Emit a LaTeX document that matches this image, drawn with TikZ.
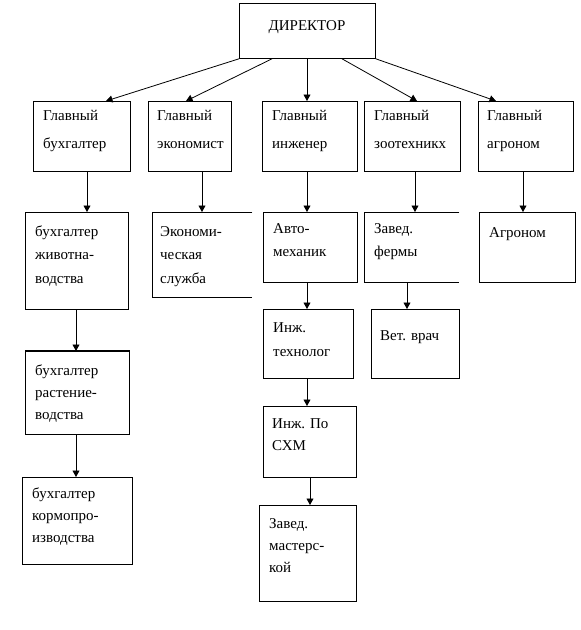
\documentclass[tikz,border=0pt]{standalone}
\usepackage{fontspec}
\setmainfont{Liberation Serif}
\usetikzlibrary{arrows.meta}
\tikzset{
  box/.style={draw, line width=0.8pt, rectangle, inner sep=0, anchor=north west},
  openbox/.style={rectangle, inner sep=0, anchor=north west},
  txt/.style={anchor=base west, inner sep=0, font=\fontsize{15}{18}\selectfont},
  arr/.style={line width=0.8pt, -{Triangle[length=6.5pt,width=7pt]}},
  edge/.style={line width=0.8pt}
}
\newcommand{\boxlines}[5]{\foreach \t [count=\i from 0] in {#5} {\node[txt] (#1-\i) at (#2,{#3+\i*#4}) {\t};}}
\begin{document}
\begin{tikzpicture}[x=1pt,y=-1pt]
\useasboundingbox (0,0) rectangle (581,630);
% boxes
\node[box, minimum width=136, minimum height=55] (dir) at (239,3) {};
\node[box, minimum width=97, minimum height=70] (gb) at (33,101) {};
\node[box, minimum width=83, minimum height=70] (ge) at (148,101) {};
\node[box, minimum width=95, minimum height=70] (gi) at (262,101) {};
\node[box, minimum width=96, minimum height=70] (gz) at (364,101) {};
\node[box, minimum width=95, minimum height=70] (ga) at (478,101) {};
\node[box, minimum width=103, minimum height=97] (bz) at (25,212) {};
\node[openbox, minimum width=100, minimum height=85] (es) at (152,212) {};
\draw[edge] (es.north east) -- (es.north west) -- (es.south west) -- (es.south east);
\node[box, minimum width=94, minimum height=70] (am) at (263,212) {};
\node[openbox, minimum width=95, minimum height=70] (zf) at (364,212) {};
\draw[edge] (zf.north east) -- (zf.north west) -- (zf.south west) -- (zf.south east);
\node[box, minimum width=96, minimum height=70] (ag) at (479,212) {};
\node[box, minimum width=90, minimum height=69] (it) at (263,309) {};
\node[box, minimum width=88, minimum height=69] (vv) at (371,309) {};
\node[box, minimum width=104, minimum height=83] (br) at (25,351) {};
\draw[line width=1.8pt] (br.north west) -- (br.north east);
\node[box, minimum width=110, minimum height=87] (bk) at (22,477) {};
\node[box, minimum width=93, minimum height=71] (is) at (263,406) {};
\node[box, minimum width=97, minimum height=96] (zm) at (259,505) {};
% texts
\node[txt, anchor=base] (dirt) at (307,30) {ДИРЕКТОР};
\boxlines{gbt}{43}{120}{28}{Главный,бухгалтер}
\boxlines{get}{157}{120}{28}{Главный,экономист}
\boxlines{git}{272}{120}{28}{Главный,инженер}
\boxlines{gzt}{374}{120}{28}{Главный,зоотехникх}
\boxlines{gat}{487}{120}{28}{Главный,агроном}
\boxlines{bzt}{35}{236}{23.5}{бухгалтер,животна-,водства}
\boxlines{est}{160}{236}{23.5}{Экономи-,ческая,служба}
\boxlines{amt}{273}{233}{23}{Авто-,механик}
\boxlines{zft}{374}{233}{23}{Завед.,фермы}
\boxlines{agt}{489}{237}{23}{Агроном}
\boxlines{itt}{273}{332}{24}{Инж.,технолог}
\boxlines{vvt}{380}{340}{23}{Вет. врач}
\boxlines{brt}{35}{375}{22}{бухгалтер,растение-,водства}
\boxlines{bkt}{32}{498}{22}{бухгалтер,кормопро-,изводства}
\boxlines{ist}{272}{428}{22}{Инж. По,СХМ}
\boxlines{zmt}{269}{528}{22}{Завед.,мастерс-,кой}
% connectors from director
\draw[arr] (dir.south west) -- ([xshift=73pt]gb.north west);
\draw[arr] ([xshift=33pt]dir.south west) -- ([xshift=38pt]ge.north west);
\draw[arr] ([xshift=68pt]dir.south west) -- ([xshift=45pt]gi.north west);
\draw[arr] ([xshift=103pt]dir.south west) -- ([xshift=53pt]gz.north west);
\draw[arr] (dir.south east) -- ([xshift=18pt]ga.north west);
% vertical connectors
\draw[arr] ([xshift=54pt]gb.south west) -- ([xshift=62pt]bz.north west);
\draw[arr] ([xshift=54pt]ge.south west) -- ([xshift=50pt]es.north west);
\draw[arr] ([xshift=45pt]gi.south west) -- ([xshift=44pt]am.north west);
\draw[arr] ([xshift=51pt]gz.south west) -- ([xshift=51pt]zf.north west);
\draw[arr] ([xshift=45pt]ga.south west) -- ([xshift=44pt]ag.north west);
\draw[arr] ([xshift=51pt]bz.south west) -- ([xshift=51pt]br.north west);
\draw[arr] ([xshift=51pt]br.south west) -- ([xshift=54pt]bk.north west);
\draw[arr] ([xshift=44pt]am.south west) -- ([xshift=44pt]it.north west);
\draw[arr] ([xshift=43pt]zf.south west) -- ([xshift=36pt]vv.north west);
\draw[arr] ([xshift=44pt]it.south west) -- ([xshift=44pt]is.north west);
\draw[arr] ([xshift=47pt]is.south west) -- ([xshift=51pt]zm.north west);
\end{tikzpicture}
\end{document}
